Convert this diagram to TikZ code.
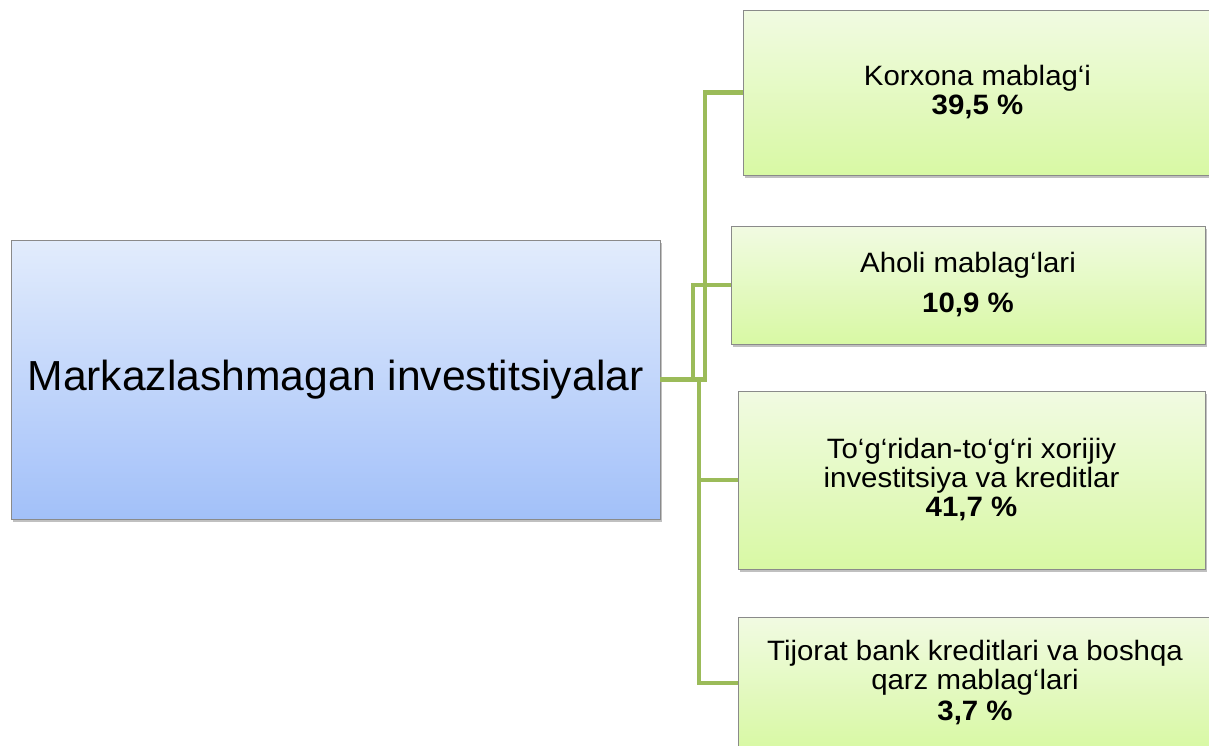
\documentclass[tikz,border=0pt]{standalone}
\usepackage{fontspec}
\setmainfont{Liberation Sans}
\newfontfamily\leaffont[FakeStretch=1.05]{Liberation Sans}
\newfontfamily\mainfont[FakeStretch=1.015]{Liberation Sans}
\usetikzlibrary{shadows}
\definecolor{linkgreen}{HTML}{9BBB59}
\definecolor{boxborder}{HTML}{8A8A8A}
\definecolor{bluetop}{HTML}{E2ECFC}
\definecolor{bluebot}{HTML}{A2C0F9}
\definecolor{greentop}{HTML}{F1FAE2}
\definecolor{greenbot}{HTML}{D8F9A4}
\tikzset{
  boxshadow/.style={drop shadow={shadow xshift=2pt,shadow yshift=-3pt,opacity=0.35,fill=black!70}},
  mainbox/.style={draw=boxborder,line width=0.9pt,shading=axis,top color=bluetop,bottom color=bluebot,
    boxshadow,inner sep=0pt,font=\mainfont\fontsize{42}{48}\selectfont},
  leafbox/.style={draw=boxborder,line width=0.9pt,shading=axis,top color=greentop,bottom color=greenbot,
    boxshadow,inner sep=0pt,align=center,font=\leaffont\fontsize{28}{29}\selectfont},
  link/.style={draw=linkgreen,line width=4.5pt}
}
\begin{document}
\begin{tikzpicture}[x=1pt,y=-1pt]
\useasboundingbox (0,0) rectangle (1209,745);
\fill[white] (0,0) rectangle (1209,745);

\node[mainbox,minimum width=649pt,minimum height=279pt] (m) at (335.5,379.5) {Markazlashmagan investitsiyalar};

\node[leafbox,minimum width=469pt,minimum height=165pt] (k) at (977.5,92.5)
  {Korxona mablag‘i\\\textbf{39,5 \%}};
\node[leafbox,minimum width=474pt,minimum height=118pt] (a) at (968,285)
  {Aholi mablag‘lari\\[11pt]\textbf{10,9 \%}};
\node[leafbox,minimum width=467pt,minimum height=178pt] (t) at (971.5,480)
  {To‘g‘ridan-to‘g‘ri xorijiy\\investitsiya va kreditlar\\\textbf{41,7 \%}};
\node[leafbox,minimum width=474pt,minimum height=132pt] (b) at (975,683)
  {Tijorat bank kreditlari va boshqa\\qarz mablag‘lari\\[2pt]\textbf{3,7 \%}};

\draw[link] (m.east) -- (705,379.5) |- (k.west);
\draw[link] (m.east) -- (693,379.5) |- (a.west);
\draw[link] (m.east) -- (699,379.5) |- (t.west);
\draw[link] (m.east) -- (699,379.5) |- (b.west);
\end{tikzpicture}
\end{document}
